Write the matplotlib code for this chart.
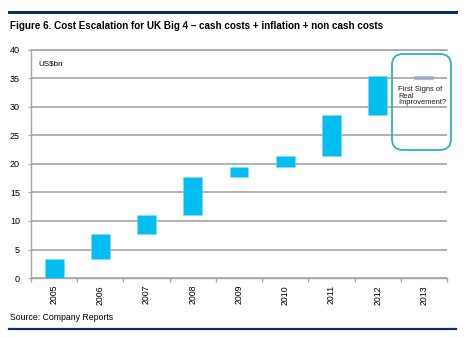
import matplotlib
matplotlib.use("Agg")
import matplotlib.pyplot as plt
from matplotlib.patches import FancyBboxPatch
from matplotlib.lines import Line2D
import numpy as np

plt.rcParams["font.family"] = ["Liberation Sans", "DejaVu Sans"]

# Cost build-up per year (US$bn): each bar spans from low to high
years = ["2005", "2006", "2007", "2008", "2009", "2010", "2011", "2012", "2013"]
lows = [0.0, 3.4, 7.7, 11.1, 17.8, 19.4, 21.4, 28.6, 34.9]
highs = [3.4, 7.7, 11.1, 17.8, 19.4, 21.4, 28.6, 35.5, 35.5]
bar_colors = ["#00BFF0"] * 8 + ["#9DAACB"]
edge_colors = ["#7FDCF7"] * 8 + ["#9DAACB"]

TITLE = "Figure 6. Cost Escalation for UK Big 4 \u2013 cash costs + inflation + non cash costs"
SOURCE = "Source: Company Reports"
CALLOUT = "First Signs of\nReal\nImprovement?"

W, H = 467, 337
fig = plt.figure(figsize=(W / 100, H / 100), dpi=100)
ax = fig.add_axes([31 / W, 1 - 278 / H, 416 / W, 228 / H])

x = np.arange(len(years))
heights = np.array(highs) - np.array(lows)
ax.bar(x, heights, bottom=lows, width=0.41, color=bar_colors,
       edgecolor=edge_colors, linewidth=0.4, zorder=3)

ax.set_xlim(-0.5, len(years) - 0.5)
ax.set_ylim(0, 40)
ax.set_yticks(range(0, 41, 5))
ax.yaxis.grid(True, color="#A6A6A6", linewidth=1.2, zorder=0)
ax.set_axisbelow(True)

ax.spines["right"].set_visible(False)
ax.spines["top"].set_color("#A6A6A6")
ax.spines["top"].set_linewidth(1.2)
for side in ("left", "bottom"):
    ax.spines[side].set_color("#A6A6A6")
    ax.spines[side].set_linewidth(1.0)

ax.set_xticks(x)
ax.set_xticklabels(years, rotation=90, fontsize=6.3)
ax.tick_params(axis="x", length=0, pad=5)
ax.set_xticks(np.arange(-0.5, len(years)), minor=True)
ax.tick_params(axis="x", which="minor", length=3, color="#A6A6A6", width=1)
ax.tick_params(axis="y", length=2, color="#A6A6A6", labelsize=6.5, pad=6)

ax.text(0.018, 0.94, "US$bn", transform=ax.transAxes, fontsize=5.8,
        ha="left", va="center")

# Callout around the last year
box = FancyBboxPatch((3.92, 1.87), 0.59, 0.96,
                     boxstyle="round,pad=0,rounding_size=0.11",
                     transform=fig.dpi_scale_trans, facecolor="none",
                     edgecolor="#2BB5B8", linewidth=1.3, clip_on=False)
fig.add_artist(box)
fig.text(3.98 / 4.67, 1 - 86 / H, CALLOUT, fontsize=5.4, color="#2A1515",
         ha="left", va="top", linespacing=0.92)

# Header and footer rules
fig.add_artist(Line2D([9 / W, 456 / W], [1 - 12 / H] * 2, color="#0B2E6B",
                      linewidth=2.2, transform=fig.transFigure))
fig.add_artist(Line2D([9 / W, 456 / W], [1 - 329 / H] * 2, color="#0B2E6B",
                      linewidth=1.6, transform=fig.transFigure))

fig.text(10 / W, 1 - 26 / H, TITLE, fontsize=7.1, fontweight="bold",
         ha="left", va="center")
fig.text(10 / W, 1 - 318 / H, SOURCE, fontsize=6.3, ha="left", va="center")

fig.savefig("out.png", dpi=100)
